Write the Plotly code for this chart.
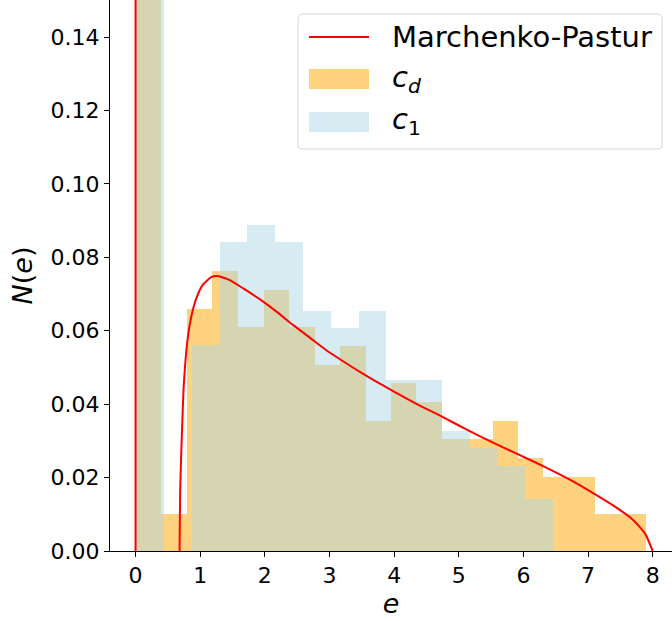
import plotly.graph_objects as go

# ---- data ----
cd_edges = [0.01, 0.40, 0.80, 1.19, 1.59, 1.98, 2.37, 2.77, 3.16, 3.56, 3.95,
            4.34, 4.74, 5.13, 5.53, 5.92, 6.31, 6.71, 7.10, 7.50, 7.89]
cd_density = [1.78, 0.0101, 0.0659, 0.0763, 0.0610, 0.0711, 0.0610, 0.0507, 0.0558, 0.0354,
              0.0457, 0.0406, 0.0305, 0.0305, 0.0354, 0.0254, 0.0202, 0.0202, 0.0101, 0.0101]

c1_edges = [0.01, 0.44, 0.87, 1.30, 1.73, 2.16, 2.59, 3.02, 3.45, 3.88, 4.31,
            4.74, 5.17, 5.60, 6.03, 6.46]
c1_density = [1.64, 0.0, 0.0561, 0.0841, 0.0888, 0.0841, 0.0654, 0.0608, 0.0654, 0.0466,
              0.0466, 0.0327, 0.0281, 0.0232, 0.0141]

mp_x = [0, 0, None, 0.681, 0.69, 0.707, 0.748, 0.81, 0.862, 0.94, 1.04, 1.17, 1.27, 1.455,
        1.66, 1.92, 2.18, 2.435, 2.69, 2.95, 3.21, 3.47, 3.73, 3.93, 4.09, 4.35, 4.74, 5.13,
        5.53, 5.92, 6.32, 6.71, 7.11, 7.49, 7.70, 7.88, 8.0]
mp_y = [1.0, 0, None, 0, 0.016, 0.0266, 0.0457, 0.0584, 0.0638, 0.0688, 0.0725, 0.0746, 0.0749,
        0.0738, 0.0716, 0.0686, 0.0652, 0.0616, 0.0582, 0.0547, 0.0517, 0.0488, 0.0461, 0.0441,
        0.0425, 0.0400, 0.0366, 0.0330, 0.0295, 0.0263, 0.0230, 0.0195, 0.0154, 0.0112, 0.0084,
        0.0048, 0]

x_ticks = [0, 1, 2, 3, 4, 5, 6, 7, 8]
y_ticks = [0.00, 0.02, 0.04, 0.06, 0.08, 0.10, 0.12, 0.14]

legend_labels = ["Marchenko-Pastur", "<i>c</i><sub><i>d</i></sub>", "<i>c</i><sub>1</sub>"]

RED = "red"
ORANGE = "rgba(255,165,0,0.5)"
BLUE = "rgba(173,216,230,0.5)"
FONT = "DejaVu Sans"

W, H = 672, 621
ML, MR, MT, MB = 110, 0, 0, 70
PW, PH = W - ML - MR, H - MT - MB


def centers_widths(edges):
    c = [(a + b) / 2 for a, b in zip(edges[:-1], edges[1:])]
    w = [b - a for a, b in zip(edges[:-1], edges[1:])]
    return c, w


def px(xp):  # pixel -> paper x
    return (xp - ML) / PW


def py(yp):  # pixel -> paper y
    return 1 - (yp - MT) / PH


fig = go.Figure()

cx, cw = centers_widths(cd_edges)
fig.add_trace(go.Bar(x=cx, y=cd_density, width=cw, name=legend_labels[1],
                     marker=dict(color=ORANGE, line=dict(width=0)), showlegend=False))
bx, bw = centers_widths(c1_edges)
fig.add_trace(go.Bar(x=bx, y=c1_density, width=bw, name=legend_labels[2],
                     marker=dict(color=BLUE, line=dict(width=0)), showlegend=False))
fig.add_trace(go.Scatter(x=mp_x, y=mp_y, mode="lines", name=legend_labels[0],
                         line=dict(color=RED, width=2, shape="spline", smoothing=0.5),
                         connectgaps=False, showlegend=False))

# ---- legend drawn as shapes + text (matplotlib style) ----
x0, x1, y0, y1, r = 298, 662, 14, 149, 4
path = (f"M {px(x0+r)},{py(y0)} L {px(x1-r)},{py(y0)} Q {px(x1)},{py(y0)} {px(x1)},{py(y0+r)} "
        f"L {px(x1)},{py(y1-r)} Q {px(x1)},{py(y1)} {px(x1-r)},{py(y1)} "
        f"L {px(x0+r)},{py(y1)} Q {px(x0)},{py(y1)} {px(x0)},{py(y1-r)} "
        f"L {px(x0)},{py(y0+r)} Q {px(x0)},{py(y0)} {px(x0+r)},{py(y0)} Z")
shapes = [dict(type="path", xref="paper", yref="paper", path=path,
               fillcolor="rgba(255,255,255,0.8)", line=dict(color="#d6d6d6", width=1)),
          dict(type="line", xref="paper", yref="paper", x0=px(309), x1=px(369),
               y0=py(37), y1=py(37), line=dict(color=RED, width=2)),
          dict(type="rect", xref="paper", yref="paper", x0=px(309), x1=px(369),
               y0=py(89), y1=py(69), fillcolor=ORANGE, line=dict(width=0)),
          dict(type="rect", xref="paper", yref="paper", x0=px(309), x1=px(369),
               y0=py(132), y1=py(112), fillcolor=BLUE, line=dict(width=0))]
annotations = []
for lab, yc in zip(legend_labels, [37, 79, 121]):
    annotations.append(dict(xref="paper", yref="paper", x=px(390), y=py(yc), text=lab,
                            showarrow=False, xanchor="left", yanchor="middle",
                            font=dict(family=FONT, size=29, color="black")))

fig.update_layout(
    width=W, height=H,
    margin=dict(l=ML, r=MR, t=MT, b=MB),
    paper_bgcolor="white", plot_bgcolor="white",
    barmode="overlay", bargap=0,
    font=dict(family=FONT, color="black", size=22),
    shapes=shapes, annotations=annotations, showlegend=False,
)
fig.update_xaxes(range=[-0.395, 8.298], tickmode="array", tickvals=x_ticks,
                 ticks="outside", ticklen=5, tickwidth=1, tickcolor="black",
                 showline=True, linecolor="black", linewidth=1, showgrid=False, zeroline=False,
                 tickfont=dict(size=22), automargin=False,
                 title=dict(text="<i>e</i>", font=dict(size=27), standoff=2))
fig.update_yaxes(range=[0, 0.1501], tickmode="array", tickvals=y_ticks, tickformat=".2f",
                 ticks="outside", ticklen=5, tickwidth=1, tickcolor="black",
                 showline=True, linecolor="black", linewidth=1, showgrid=False, zeroline=False,
                 tickfont=dict(size=22), automargin=False,
                 title=dict(text="<i>N</i>(<i>e</i>)", font=dict(size=27), standoff=10))

fig.write_html("out.html", config={"displayModeBar": False},
               post_script="document.body.style.margin='0';document.body.style.padding='0';")
